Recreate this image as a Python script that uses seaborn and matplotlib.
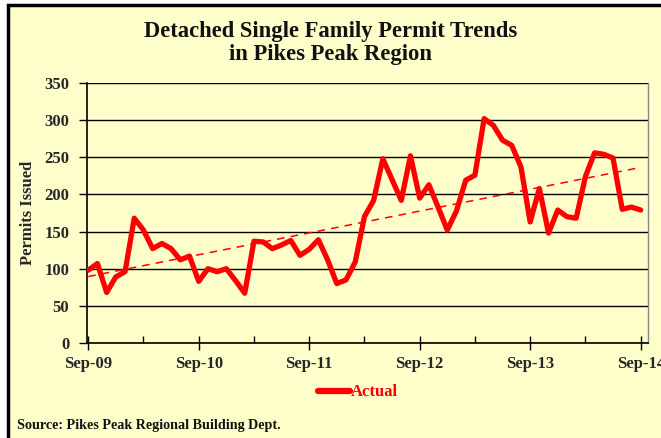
import matplotlib.pyplot as plt
from matplotlib.patches import Rectangle
from matplotlib.lines import Line2D
import numpy as np
import pandas as pd
import seaborn as sns

# monthly detached single family permits, Sep-09 .. Sep-14
months = np.arange(61)
permits = [98, 107, 68, 89, 96, 168, 152, 127, 134, 127, 112, 117,
           83, 100, 96, 100, 84, 67, 137, 136, 127, 132, 138, 118,
           126, 139, 112, 80, 85, 109, 170, 192, 248, 220, 192, 252,
           195, 213, 183, 152, 178, 219, 226, 302, 293, 273, 266, 237,
           163, 208, 148, 179, 170, 168, 224, 256, 254, 249, 180, 183,
           179]
tick_pos = [0, 12, 24, 36, 48, 60]
tick_labels = ["Sep-09", "Sep-10", "Sep-11", "Sep-12", "Sep-13", "Sep-14"]
y_ticks = [0, 50, 100, 150, 200, 250, 300, 350]

BG = "#FFFFCC"
RED = "#FF0000"
W, H = 661, 438

sns.set_theme(style="ticks")
plt.rcParams["font.family"] = ["Liberation Serif", "DejaVu Serif"]
plt.rcParams["font.weight"] = "bold"

df = pd.DataFrame({"month": months, "permits": permits})

fig = plt.figure(figsize=(W / 100, H / 100), dpi=100, facecolor="white")
# yellow chart area with black frame on top / left
fig.patches.append(Rectangle((8 / W, -0.2), 1.3, 1.2 - 5 / H,
                             transform=fig.transFigure, facecolor=BG,
                             edgecolor="black", lw=2.5, zorder=-5))

ax = fig.add_axes([87.3 / W, 1 - 343 / H, (648 - 87.3) / W, 260 / H])
ax.set_facecolor(BG)

# Draw plot
sns.lineplot(x="month", y="permits", data=df, ax=ax, color=RED, lw=3.8,
             label="Actual", zorder=3)
sns.regplot(x="month", y="permits", data=df, ax=ax, scatter=False, ci=None,
            line_kws=dict(color=RED, lw=1.1, ls=(0, (5, 4)), zorder=2))

# Axes styling
ax.set_xlim(-0.1, 60.8)
ax.set_ylim(0, 350)
ax.set_yticks(y_ticks)
ax.set_xticks(tick_pos)
ax.set_xticklabels(tick_labels)
ax.set_xticks([6, 18, 30, 42, 54], minor=True)
ax.grid(axis="y", color="black", lw=1)
ax.set_axisbelow(True)

for side in ["left", "bottom"]:
    ax.spines[side].set_color("black")
    ax.spines[side].set_linewidth(1.2)
ax.spines["top"].set_visible(False)
ax.spines["right"].set_color("#888888")
ax.spines["right"].set_linewidth(1)

ax.tick_params(axis="y", direction="out", length=6, width=1, color="black",
               pad=7, labelsize=12)
ax.tick_params(axis="x", which="major", direction="inout", length=10,
               width=1, color="black", pad=4, labelsize=12)
ax.tick_params(axis="x", which="minor", direction="in", length=5,
               width=1, color="black")
for lab in ax.get_xticklabels() + ax.get_yticklabels():
    lab.set_fontweight("bold")

ax.set(xlabel=None)
ax.set_ylabel("Permits Issued", fontsize=12, fontweight="bold", labelpad=6)

ax.legend(handles=[Line2D([], [], color=RED, lw=4.5)], labels=["Actual"],
          loc="center", bbox_to_anchor=(0.483, -0.19), frameon=False,
          prop=dict(weight="bold", size=12), labelcolor=RED,
          handlelength=1.9, handletextpad=0.1)

fig.text(0.5, 1 - 43 / H, "Detached Single Family Permit Trends\nin Pikes Peak Region",
         ha="center", va="center", fontsize=16.3, fontweight="bold",
         linespacing=1.18, color="#111111")
fig.text(17 / W, 1 - 425 / H, "Source: Pikes Peak Regional Building Dept.",
         ha="left", va="center", fontsize=10.2, fontweight="bold",
         color="#111111")

fig.savefig("out.png", dpi=100, facecolor=fig.get_facecolor())
